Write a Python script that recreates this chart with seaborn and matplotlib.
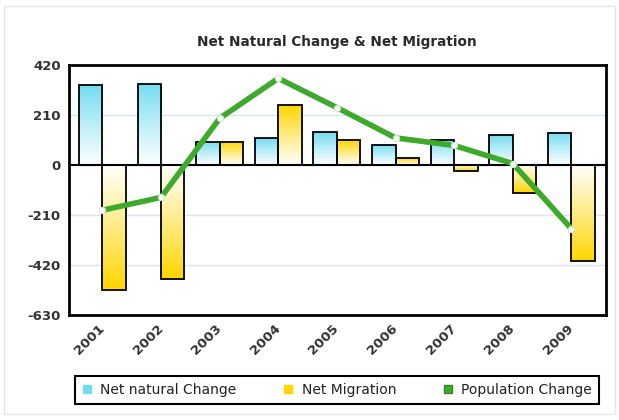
import numpy as np
import pandas as pd
import matplotlib
matplotlib.use("Agg")
import matplotlib.pyplot as plt
from matplotlib.lines import Line2D
from matplotlib.patches import Rectangle
from matplotlib.colors import to_rgb
import seaborn as sns

# ── Data ──────────────────────────────────────────────────────────────────────
years = ["2001", "2002", "2003", "2004", "2005", "2006", "2007", "2008", "2009"]
natural_change = [336, 341, 98, 113, 138, 86, 107, 124, 136]
net_migration = [-526, -477, 98, 251, 103, 28, -25, -118, -404]
population_change = [-190, -136, 196, 364, 241, 114, 82, 6, -268]
y_ticks = [420, 210, 0, -210, -420, -630]
series_names = ["Net natural Change", "Net Migration", "Population Change"]

BLUE = "#74dcf2"
YELLOW = "#ffd600"
GREEN = "#3daa2c"
TEXT = "#333333"

sns.set_style("white")
plt.rcParams["font.family"] = ["DejaVu Sans"]

df = pd.DataFrame({
    "year": years * 2,
    "value": natural_change + net_migration,
    "series": [series_names[0]] * len(years) + [series_names[1]] * len(years),
})
pop_df = pd.DataFrame({"year": years, "value": population_change})

fig = plt.figure(figsize=(6.19, 4.20), dpi=100)
ax = fig.add_axes([69 / 619, 1 - 315 / 420, (606 - 69) / 619, (315 - 65) / 420])

# ── Bars (outlines from seaborn, gradient fill clipped into each bar) ─────────
sns.barplot(
    data=df, x="year", y="value", hue="series",
    palette=[BLUE, YELLOW], width=0.8, errorbar=None,
    edgecolor="black", linewidth=1.3, legend=False, ax=ax, zorder=3,
)

for container, col in zip(ax.containers, [BLUE, YELLOW]):
    rgb = np.array(to_rgb(col))
    for bar in container:
        bar.set_facecolor("none")
        x0, w, h = bar.get_x(), bar.get_width(), bar.get_height()
        lo, hi = min(0, h), max(0, h)
        t = np.linspace(0, 1, 64) if h >= 0 else np.linspace(1, 0, 64)
        t = (0.03 + 0.97 * t) ** 1.1
        img = (1 - t)[:, None, None] * np.ones(3) + t[:, None, None] * rgb
        img = np.repeat(img, 2, axis=1)
        im = ax.imshow(img, extent=(x0, x0 + w, lo, hi), origin="lower",
                       aspect="auto", zorder=2, interpolation="bilinear")
        im.set_clip_path(bar)

# ── Population change line ────────────────────────────────────────────────────
sns.pointplot(data=pop_df, x="year", y="value", color=GREEN, markers="o",
              errorbar=None, linewidth=4, markersize=4.5, ax=ax, zorder=5)
line = ax.lines[-1]
line.set_markerfacecolor("white")
line.set_markeredgecolor("#cfe8c8")
line.set_markeredgewidth(0.8)

ax.axhline(0, color="black", lw=1.5, zorder=4)

# ── Axes styling ──────────────────────────────────────────────────────────────
ax.set_xlim(-0.57, 8.59)
ax.set_ylim(-630, 420)
ax.set_yticks(y_ticks)
ax.set_yticklabels([str(v) for v in y_ticks], fontsize=9.5,
                   fontweight="bold", color=TEXT)
ax.set_xlabel("")
ax.set_ylabel("")
ax.yaxis.grid(True, color="#dde4ee", lw=1)
ax.set_axisbelow(True)
ax.tick_params(axis="y", length=0, pad=6)
ax.tick_params(axis="x", length=0, pad=8)
for lbl in ax.get_xticklabels():
    lbl.set_rotation(45)
    lbl.set_ha("right")
    lbl.set_va("center")
    lbl.set_rotation_mode("anchor")
    lbl.set_fontweight("bold")
    lbl.set_fontsize(9.5)
    lbl.set_color(TEXT)
for side in ["top", "bottom", "left", "right"]:
    ax.spines[side].set_color("black")
    ax.spines[side].set_linewidth(2)

fig.text(336.5 / 619, 1 - 42 / 420, "Net Natural Change & Net Migration",
         ha="center", va="center", fontsize=9.8, fontweight="bold", color="#2a2a2a")

# ── Legend ────────────────────────────────────────────────────────────────────
handles = [
    Line2D([], [], marker="s", linestyle="none", markersize=6,
           markerfacecolor=BLUE, markeredgecolor=BLUE, label=series_names[0]),
    Line2D([], [], marker="s", linestyle="none", markersize=6,
           markerfacecolor=YELLOW, markeredgecolor=YELLOW, label=series_names[1]),
    Line2D([], [], marker="s", linestyle="none", markersize=6,
           markerfacecolor=GREEN, markeredgecolor="#2e8a20", label=series_names[2]),
]
leg = fig.legend(handles=handles, loc="center",
                 bbox_to_anchor=(337 / 619, 1 - 390 / 420), ncol=3,
                 frameon=True, fancybox=False, edgecolor="black", framealpha=1,
                 fontsize=10, handlelength=0.7, handletextpad=0.6,
                 columnspacing=3.4, borderpad=0.5)
leg.get_frame().set_linewidth(1.5)
for txt in leg.get_texts():
    txt.set_color("#222222")

fig.patches.append(Rectangle((4 / 619, 6 / 420), 611 / 619, 408 / 420,
                             transform=fig.transFigure, fill=False,
                             edgecolor="#e6e6e6", lw=1))

fig.savefig("out.png", dpi=100)
